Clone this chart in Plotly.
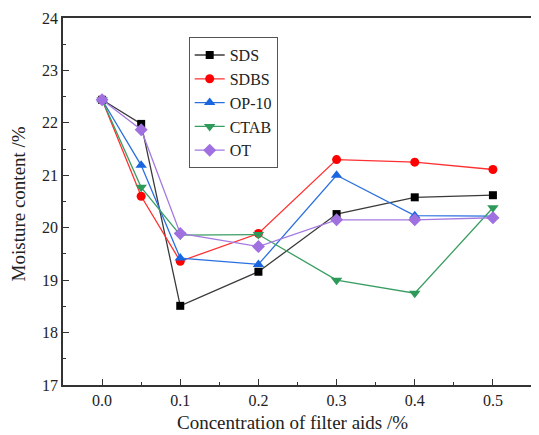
import plotly.graph_objects as go

conc = [0.0, 0.05, 0.1, 0.2, 0.3, 0.4, 0.5]
sds = [22.44, 21.98, 18.51, 19.16, 20.26, 20.58, 20.62]
sdbs = [22.44, 20.60, 19.36, 19.89, 21.30, 21.25, 21.11]
op10 = [22.44, 21.19, 19.42, 19.30, 21.00, 20.23, 20.22]
ctab = [22.44, 20.77, 19.86, 19.87, 19.00, 18.75, 20.38]
ot = [22.44, 21.87, 19.89, 19.64, 20.15, 20.15, 20.19]

x_title = "Concentration of filter aids /%"
y_title = "Moisture content /%"

series = [
    ("SDS", sds, "#000000", "#3a3a3a", "square", 8),
    ("SDBS", sdbs, "#ff0000", "#ff3030", "circle", 9),
    ("OP-10", op10, "#1a66e0", "#2a70e0", "triangle-up", 10),
    ("CTAB", ctab, "#2e9a5a", "#3a9e62", "triangle-down", 10),
    ("OT", ot, "#a070e0", "#a57ae0", "diamond", 10),
]

fig = go.Figure()
for name, vals, mcol, lcol, sym, sz in series:
    fig.add_trace(go.Scatter(
        x=conc, y=vals, name=name, mode="lines+markers",
        line=dict(color=lcol, width=1.3),
        marker=dict(color=mcol, symbol=sym, size=sz, line=dict(width=0)),
    ))

font = "Liberation Serif"
axis_common = dict(
    showline=True, linecolor="#333333", linewidth=1.5, mirror=True,
    ticks="inside", ticklen=6, tickwidth=1.2, tickcolor="#333333",
    showgrid=False, zeroline=False, ticklabeloverflow="allow", automargin=False,
    tickfont=dict(family=font, size=16, color="#222222"),
)
fig.update_xaxes(
    range=[-0.05, 0.55], dtick=0.1, tick0=0, tickformat=".1f",
    minor=dict(dtick=0.05, ticks="inside", ticklen=3.5, tickcolor="#333333", tickwidth=1.2),
    **axis_common,
)
fig.update_yaxes(
    range=[17, 24], dtick=1, tick0=17,
    minor=dict(dtick=0.5, ticks="inside", ticklen=3.5, tickcolor="#333333", tickwidth=1.2),
    **axis_common,
)
fig.add_annotation(
    text=x_title, xref="paper", yref="paper", x=0.49, y=0,
    xanchor="center", yanchor="middle", yshift=-37, showarrow=False,
    font=dict(family=font, size=19, color="#222222"),
)
fig.add_annotation(
    text=y_title, xref="paper", yref="paper", x=0, y=0.492,
    xanchor="center", yanchor="middle", xshift=-45, textangle=-90, showarrow=False,
    font=dict(family=font, size=19, color="#222222"),
)
fig.update_layout(
    width=531, height=427,
    margin=dict(l=55, r=7, t=10, b=50),
    plot_bgcolor="white", paper_bgcolor="white",
    font=dict(family=font),
    legend=dict(
        x=0.268, y=0.948, xanchor="left", yanchor="top",
        bordercolor="#555555", borderwidth=1, bgcolor="white",
        font=dict(family=font, size=16, color="#222222"),
        tracegroupgap=0,
    ),
)
fig.write_html("out.html")
